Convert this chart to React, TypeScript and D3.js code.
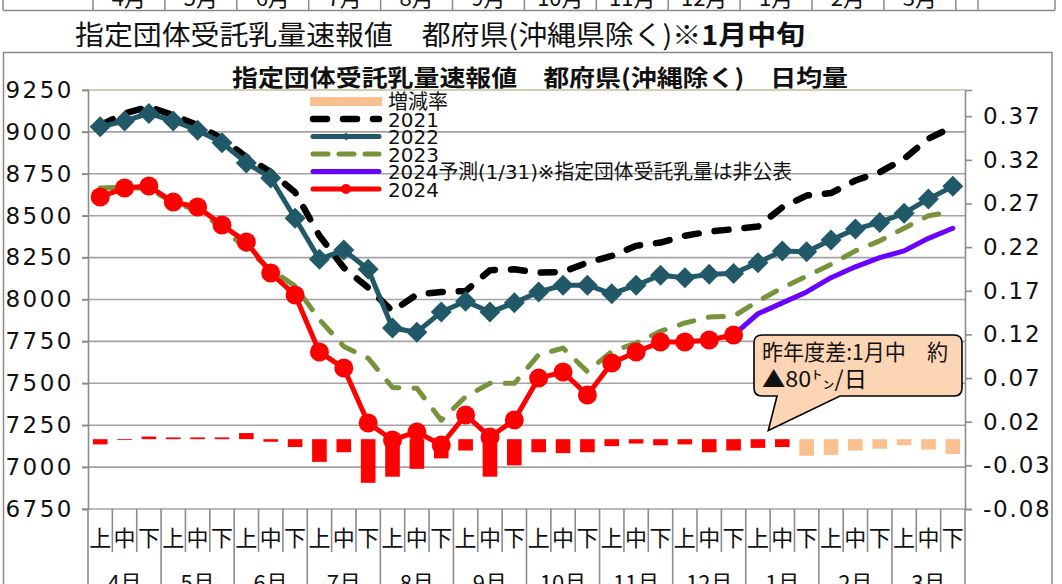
import { useEffect, useRef } from 'react';
import * as d3 from 'd3';

const MONTHS = ['4月', '5月', '6月', '7月', '8月', '9月', '10月', '11月', '12月', '1月', '2月', '3月'];
const PERIODS = ['上', '中', '下'];
const CATEGORIES = MONTHS.flatMap(m => PERIODS.map(p => `${m}${p}`));

const Y_TICKS = [6750, 7000, 7250, 7500, 7750, 8000, 8250, 8500, 8750, 9000, 9250];
const RATE_TICKS = [-0.08, -0.03, 0.02, 0.07, 0.12, 0.17, 0.22, 0.27, 0.32, 0.37];

const S2021 = [9040, 9110, 9150, 9100, 9040, 8960, 8850, 8760, 8640, 8380, 8190, 8070,
  7930, 8030, 8045, 8050, 8175, 8180, 8160, 8165, 8220, 8260, 8320, 8340,
  8380, 8405, 8420, 8435, 8550, 8620, 8635, 8710, 8760, 8840, 8960, 9030];
const S2022 = [9030, 9065, 9110, 9065, 9010, 8935, 8815, 8725, 8485, 8240, 8295, 8180,
  7830, 7805, 7925, 7990, 7925, 7980, 8045, 8085, 8085, 8035, 8085, 8145,
  8130, 8150, 8155, 8220, 8290, 8285, 8355, 8420, 8460, 8515, 8600, 8675];
const S2023 = [8665, 8670, 8660, 8580, 8530, 8430, 8300, 8180, 8080, 7880, 7720, 7650,
  7475, 7470, 7280, 7420, 7500, 7500, 7670, 7710, 7570, 7690, 7740, 7810,
  7860, 7895, 7900, 7990, 8070, 8140, 8210, 8290, 8350, 8425, 8500, 8525];
const S2024 = [8612, 8665, 8677, 8581, 8552, 8444, 8343, 8158, 8027, 7687, 7591, 7263,
  7162, 7210, 7132, 7311, 7180, 7281, 7531, 7567, 7430, 7621, 7687, 7746,
  7746, 7758, 7788];
const S2024_FORECAST: (number | null)[] = [null, null, null, null, null, null, null, null, null, null, null, null,
  null, null, null, null, null, null, null, null, null, null, null, null,
  null, null, 7788, 7915, 7980, 8045, 8130, 8195, 8250, 8290, 8365, 8425];
const RATE = [-0.006, -0.001, 0.003, 0.002, 0.002, 0.002, 0.007, -0.003, -0.009, -0.026, -0.015, -0.050,
  -0.043, -0.034, -0.022, -0.013, -0.043, -0.030, -0.015, -0.016, -0.015, -0.008, -0.005, -0.007,
  -0.006, -0.015, -0.013, -0.010, -0.009, -0.019, -0.018, -0.013, -0.011, -0.007, -0.012, -0.017];
const RATE_ACTUAL_COUNT = 29; // 4月上〜1月中 are actual, the rest forecast

const C = {
  y2021: '#000000',
  y2022: '#215968',
  y2023: '#77933c',
  fore: '#6a00ff',
  y2024: '#ff0000',
  rateActual: '#ff0000',
  rateFore: '#fac090',
  grid: '#a3a3a3',
  axis: '#8c8c8c',
  text: '#111',
};

const CJK = "'Noto Sans CJK JP', sans-serif";
const NUM = "'DejaVu Sans', 'Noto Sans CJK JP', sans-serif";

export default function App() {
  const svgRef = useRef<SVGSVGElement>(null);

  useEffect(() => {
    if (!svgRef.current) return;
    const width = 1062;
    const height = 584;
    const plot = { left: 88, right: 965, top: 90, bottom: 509 };

    const svg = d3.select(svgRef.current);
    svg.selectAll('*').remove();

    svg.append('rect').attr('width', width).attr('height', height).attr('fill', '#fff');

    // spreadsheet row above the chart
    const cellStep = 71.9;
    const cellEdges = [3, ...d3.range(13).map(i => 93 + i * cellStep), 978, 1055];
    const sheet = svg.append('g');
    sheet.append('line').attr('x1', 3).attr('x2', 1055).attr('y1', 10.5).attr('y2', 10.5)
      .attr('stroke', '#8a8a8a').attr('stroke-width', 1.5);
    sheet.selectAll('line.v').data(cellEdges).join('line').attr('class', 'v')
      .attr('x1', d => d).attr('x2', d => d).attr('y1', 0).attr('y2', 10)
      .attr('stroke', '#8a8a8a').attr('stroke-width', 1.5);
    sheet.selectAll('text').data(MONTHS).join('text')
      .attr('x', (_, i) => 93 + (i + 0.5) * cellStep).attr('y', 6)
      .attr('text-anchor', 'middle').attr('font-family', CJK).attr('font-size', 22)
      .attr('fill', C.text).text(d => d);

    // sheet title
    const title = svg.append('text')
      .attr('x', 75).attr('y', 45)
      .attr('font-family', CJK).attr('font-size', 27).attr('fill', C.text)
      .attr('textLength', 730).attr('lengthAdjust', 'spacingAndGlyphs');
    title.append('tspan').text('指定団体受託乳量速報値　都府県(沖縄県除く)');
    title.append('tspan').attr('font-weight', 700).text('※1月中旬');

    // chart box
    svg.append('rect').attr('x', 3.5).attr('y', 52.5).attr('width', 1048.5).attr('height', 600)
      .attr('fill', '#fff').attr('stroke', '#8a8a8a').attr('stroke-width', 1.5);

    const x = d3.scaleBand<string>().domain(CATEGORIES)
      .range([plot.left, plot.right]).paddingInner(0.4).paddingOuter(0.2);
    const step = x.step();
    const cx = (i: number) => (x(CATEGORIES[i]) ?? 0) + x.bandwidth() / 2;

    const y = d3.scaleLinear().domain([6750, 9250]).range([plot.bottom, plot.top]);
    const yR = d3.scaleLinear().domain([-0.08, 0.40]).range([plot.bottom, plot.top]);

    // grid
    svg.append('g').selectAll('line').data(Y_TICKS).join('line')
      .attr('x1', plot.left - 6).attr('x2', plot.right)
      .attr('y1', d => y(d)).attr('y2', d => y(d))
      .attr('stroke', d => (d === 9250 ? '#c4bd97' : C.grid)).attr('stroke-width', 1.6);

    // left axis
    const gl = svg.append('g').attr('transform', `translate(${plot.left},0)`)
      .call(d3.axisLeft(y).tickValues(Y_TICKS).tickSize(6).tickPadding(8).tickFormat(d => String(d)));
    gl.select('.domain').attr('stroke', C.axis).attr('stroke-width', 1.6);
    gl.selectAll('.tick line').attr('stroke', C.axis).attr('stroke-width', 1.6);
    gl.selectAll('.tick text').attr('fill', C.text).attr('font-family', NUM).attr('font-size', 23)
      .attr('letter-spacing', 2.5);

    // right axis
    const gr = svg.append('g').attr('transform', `translate(${plot.right},0)`)
      .call(d3.axisRight(yR).tickValues(RATE_TICKS).tickSize(7).tickPadding(11)
        .tickFormat(d => (d as number).toFixed(2)));
    gr.select('.domain').attr('stroke', C.axis).attr('stroke-width', 1.6);
    gr.selectAll('.tick line').attr('stroke', C.axis).attr('stroke-width', 1.6);
    gr.selectAll('.tick text').attr('fill', C.text).attr('font-family', NUM).attr('font-size', 23)
      .attr('letter-spacing', 1.8);

    // category axis (multi-level)
    const cat = svg.append('g');
    cat.selectAll('line').data(d3.range(CATEGORIES.length + 1)).join('line')
      .attr('x1', i => plot.left + i * step).attr('x2', i => plot.left + i * step)
      .attr('y1', plot.bottom).attr('y2', i => (i % 3 === 0 ? height : 552))
      .attr('stroke', C.axis).attr('stroke-width', 1.6);
    cat.selectAll('text.p').data(CATEGORIES).join('text').attr('class', 'p')
      .attr('x', (_, i) => cx(i)).attr('y', 546)
      .attr('text-anchor', 'middle').attr('font-family', CJK).attr('font-size', 22)
      .attr('fill', C.text).text(d => d.slice(-1));
    cat.selectAll('text.m').data(MONTHS).join('text').attr('class', 'm')
      .attr('x', (_, i) => plot.left + (i * 3 + 1.5) * step).attr('y', 591)
      .attr('text-anchor', 'middle').attr('font-family', CJK).attr('font-size', 22)
      .attr('fill', C.text).text(d => d);

    // rate bars
    svg.append('g').selectAll('rect').data(RATE).join('rect')
      .attr('x', (_, i) => x(CATEGORIES[i]) ?? 0)
      .attr('width', x.bandwidth())
      .attr('y', d => yR(Math.max(0, d)))
      .attr('height', d => Math.abs(yR(d) - yR(0)))
      .attr('fill', (_, i) => (i < RATE_ACTUAL_COUNT ? C.rateActual : C.rateFore));

    const line = d3.line<number | null>()
      .defined(d => d != null)
      .x((_, i) => cx(i))
      .y(d => y(d as number));

    const addLine = (data: (number | null)[], color: string, w: number, dash?: string) =>
      svg.append('path').datum(data)
        .attr('fill', 'none').attr('stroke', color).attr('stroke-width', w)
        .attr('stroke-linecap', 'round').attr('stroke-linejoin', 'round')
        .attr('stroke-dasharray', dash ?? null)
        .attr('d', line);

    addLine(S2021, C.y2021, 6.5, '14,16');
    addLine(S2022, C.y2022, 5);
    svg.append('g').selectAll('path').data(S2022).join('path')
      .attr('transform', (d, i) => `translate(${cx(i)},${y(d)})`)
      .attr('d', 'M0,-10.5L10.5,0L0,10.5L-10.5,0Z')
      .attr('fill', C.y2022);
    addLine(S2023, C.y2023, 5, '15,15');
    addLine(S2024_FORECAST, C.fore, 5);
    addLine(S2024, C.y2024, 5);
    svg.append('g').selectAll('circle').data(S2024).join('circle')
      .attr('cx', (_, i) => cx(i)).attr('cy', d => y(d)).attr('r', 9.5)
      .attr('fill', C.y2024);

    // chart title
    svg.append('text').attr('x', 232).attr('y', 86)
      .attr('font-family', CJK).attr('font-size', 23).attr('font-weight', 700).attr('fill', C.text)
      .attr('textLength', 616).attr('lengthAdjust', 'spacingAndGlyphs')
      .text('指定団体受託乳量速報値　都府県(沖縄除く)　日均量');

    // legend
    const legend = [
      { label: '増減率', kind: 'bar', color: C.rateFore },
      { label: '2021', kind: 'line', color: C.y2021, w: 6.5, dash: '14,16' },
      { label: '2022', kind: 'line', color: C.y2022, w: 5, marker: 'diamond' },
      { label: '2023', kind: 'line', color: C.y2023, w: 5, dash: '15,11' },
      { label: '2024予測(1/31)※指定団体受託乳量は非公表', kind: 'line', color: C.fore, w: 5, len: 404 },
      { label: '2024', kind: 'line', color: C.y2024, w: 5, marker: 'circle' },
    ];
    const lg = svg.append('g');
    legend.forEach((item, i) => {
      const ly = 101.5 + i * 17.5;
      if (item.kind === 'bar') {
        lg.append('rect').attr('x', 310).attr('y', ly - 4.5).attr('width', 72).attr('height', 9)
          .attr('fill', item.color);
      } else {
        lg.append('line').attr('x1', 313).attr('x2', 379).attr('y1', ly).attr('y2', ly)
          .attr('stroke', item.color).attr('stroke-width', item.w ?? 5)
          .attr('stroke-linecap', 'round').attr('stroke-dasharray', item.dash ?? null);
      }
      if (item.marker === 'diamond') {
        lg.append('path').attr('transform', `translate(346,${ly})`)
          .attr('d', 'M0,-4L4,0L0,4L-4,0Z').attr('fill', item.color);
      }
      if (item.marker === 'circle') {
        lg.append('circle').attr('cx', 346).attr('cy', ly).attr('r', 5).attr('fill', item.color);
      }
      const t = lg.append('text').attr('x', 388).attr('y', ly + 7.5)
        .attr('font-family', NUM).attr('font-size', 20).attr('fill', C.text).text(item.label);
      if (item.len) t.attr('textLength', item.len).attr('lengthAdjust', 'spacingAndGlyphs');
    });

    // callout
    const bx0 = 754, bx1 = 962, by0 = 335, by1 = 396, r = 8;
    const tipX = cx(28) - 14, tipY = yR(0.01);
    svg.append('path')
      .attr('d', `M${bx0 + r},${by0}H${bx1 - r}Q${bx1},${by0} ${bx1},${by0 + r}V${by1 - r}`
        + `Q${bx1},${by1} ${bx1 - r},${by1}H840L${tipX},${tipY}L777,${by1}H${bx0 + r}`
        + `Q${bx0},${by1} ${bx0},${by1 - r}V${by0 + r}Q${bx0},${by0} ${bx0 + r},${by0}Z`)
      .attr('fill', '#fcd5b5').attr('stroke', '#000').attr('stroke-width', 1.6);
    svg.append('text').attr('x', 762).attr('y', 360)
      .attr('font-family', CJK).attr('font-size', 22).attr('fill', C.text)
      .attr('textLength', 186).attr('lengthAdjust', 'spacingAndGlyphs')
      .text('昨年度差:1月中　約');
    svg.append('text').attr('x', 762).attr('y', 387)
      .attr('font-family', CJK).attr('font-size', 22).attr('fill', C.text)
      .attr('textLength', 105).attr('lengthAdjust', 'spacingAndGlyphs')
      .text('▲80㌧/日');
  }, []);

  return (
    <svg
      ref={svgRef}
      width={1062}
      height={584}
      viewBox="0 0 1062 584"
      style={{ position: 'absolute', left: 0, top: 0, display: 'block' }}
    />
  );
}
